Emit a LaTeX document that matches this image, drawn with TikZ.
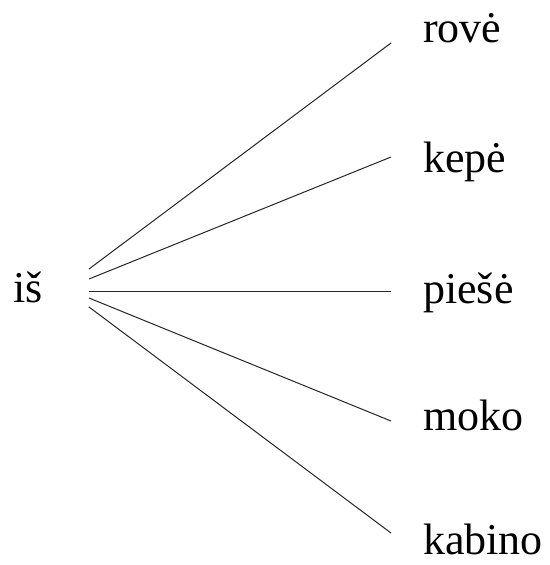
\documentclass[tikz,border=0pt]{standalone}
\usepackage{fontspec}
\setmainfont{Liberation Serif}
\begin{document}
\begin{tikzpicture}[x=1pt,y=-1pt,word/.style={anchor=base west,inner sep=0pt,font=\fontsize{44}{50}\selectfont},link/.style={line width=1pt,black!85}]
\useasboundingbox (0,0) rectangle (549,565);
\node[word] (is) at (13,302) {iš};
\node[word] (rove) at (423,42) {rovė};
\node[word] (kepe) at (423,172) {kepė};
\node[word] (piese) at (423,303) {piešė};
\node[word] (moko) at (423,430) {moko};
\node[word] (kabino) at (423,554) {kabino};
\coordinate (s1) at (89,269);
\coordinate (s2) at (89,279);
\coordinate (s3) at (89,291);
\coordinate (s4) at (89,298);
\coordinate (s5) at (89,307);
\coordinate (e1) at (391,43);
\coordinate (e2) at (391,157);
\coordinate (e3) at (391,291);
\coordinate (e4) at (391,421);
\coordinate (e5) at (391,533);
\draw[link] (s1) -- (e1);
\draw[link] (s2) -- (e2);
\draw[link] (s3) -- (e3);
\draw[link] (s4) -- (e4);
\draw[link] (s5) -- (e5);
\end{tikzpicture}
\end{document}
